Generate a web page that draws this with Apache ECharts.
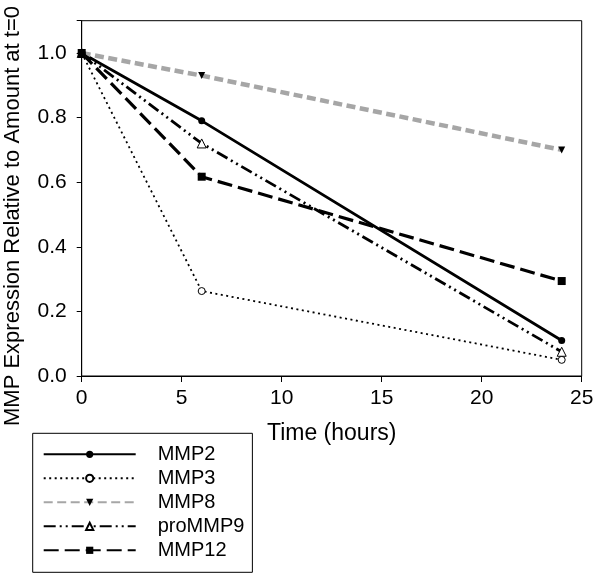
<!DOCTYPE html>
<html>
<head>
<meta charset="utf-8">
<script src="https://cdn.jsdelivr.net/npm/echarts@6/dist/echarts.min.js"></script>
<style>html,body{margin:0;padding:0;background:#fff;}#c{width:601px;height:581px;}</style>
</head>
<body>
<div id="c"></div>
<script>
const times = [0, 6, 24];
const seriesNames = ['MMP2', 'MMP3', 'MMP8', 'proMMP9', 'MMP12'];
const mmp2 = [1.0, 0.79, 0.11];
const mmp3 = [1.0, 0.263, 0.05];
const mmp8 = [1.0, 0.93, 0.70];
const proMmp9 = [1.0, 0.72, 0.075];
const mmp12 = [1.0, 0.617, 0.294];
const xTicks = [0, 5, 10, 15, 20, 25];
const yTicks = [0.0, 0.2, 0.4, 0.6, 0.8, 1.0];
const xTitle = 'Time (hours)';
const yTitle = 'MMP Expression Relative to Amount at t=0';

const pairs = v => times.map((t, i) => [t, v[i]]);
const FONT = '"Liberation Sans", Arial, sans-serif';

const chart = echarts.init(document.getElementById('c'), null, {renderer: 'canvas'});
chart.setOption({
  animation: false,
  backgroundColor: '#fff',
  grid: {left: 81.7, right: 19.3, top: 20.7, bottom: 205, show: true, borderColor: '#000', borderWidth: 1},
  xAxis: {
    type: 'value', min: xTicks[0], max: xTicks[xTicks.length - 1], interval: 5,
    name: xTitle, nameLocation: 'middle', nameGap: 46,
    nameTextStyle: {fontFamily: FONT, fontSize: 23, color: '#000'},
    axisLine: {lineStyle: {color: '#000', width: 1}},
    axisTick: {show: true, inside: false, length: 6, lineStyle: {color: '#000'}},
    axisLabel: {fontFamily: FONT, fontSize: 21, color: '#000', margin: 12},
    splitLine: {show: false}
  },
  yAxis: {
    type: 'value', min: 0, max: 1.1, interval: 0.2,
    axisLine: {show: true, lineStyle: {color: '#000', width: 1}},
    axisTick: {show: true, inside: false, length: 5, lineStyle: {color: '#000'}},
    axisLabel: {fontFamily: FONT, fontSize: 21, color: '#000', margin: 15,
      formatter: v => (yTicks.some(t => Math.abs(t - v) < 1e-6) ? v.toFixed(1) : '')},
    splitLine: {show: false}
  },
  graphic: [{
    type: 'text', x: 13, y: 216, rotation: Math.PI / 2,
    style: {text: yTitle, fontFamily: FONT, fontSize: 22, fill: '#000', align: 'center', verticalAlign: 'middle'}
  }],
  legend: {
    orient: 'vertical', left: 32.7, top: 433.3,
    borderColor: '#000', borderWidth: 1, padding: [11, 8, 12, 10],
    itemWidth: 92, itemHeight: 9, itemGap: 4,
    textStyle: {fontFamily: FONT, fontSize: 20, lineHeight: 20, color: '#000', padding: [0, 0, 0, 17]},
    data: seriesNames
  },
  series: [
    {name: seriesNames[0], type: 'line', data: pairs(mmp2), symbol: 'circle', symbolSize: 7,
     itemStyle: {color: '#000'}, lineStyle: {color: '#000', width: 2.8, type: 'solid'}},
    {name: seriesNames[1], type: 'line', data: pairs(mmp3), symbol: 'circle', symbolSize: 7,
     itemStyle: {color: '#fff', borderColor: '#000', borderWidth: 1}, lineStyle: {color: '#000', width: 1.8, type: [2, 3.5]}},
    {name: seriesNames[2], type: 'line', data: pairs(mmp8), symbol: 'triangle', symbolRotate: 180, symbolSize: 7,
     itemStyle: {color: '#000'}, lineStyle: {color: '#a6a6a6', width: 4.5, type: [9, 4.5], cap: 'butt'}},
    {name: seriesNames[3], type: 'line', data: pairs(proMmp9), symbol: 'triangle', symbolSize: 9,
     itemStyle: {color: '#fff', borderColor: '#000', borderWidth: 1}, lineStyle: {color: '#000', width: 2.8, type: [12, 4, 2, 4, 2, 4]}},
    {name: seriesNames[4], type: 'line', data: pairs(mmp12), symbol: 'rect', symbolSize: 8,
     itemStyle: {color: '#000'}, lineStyle: {color: '#000', width: 3.2, type: [15, 6]}}
  ]
});
</script>
</body>
</html>
